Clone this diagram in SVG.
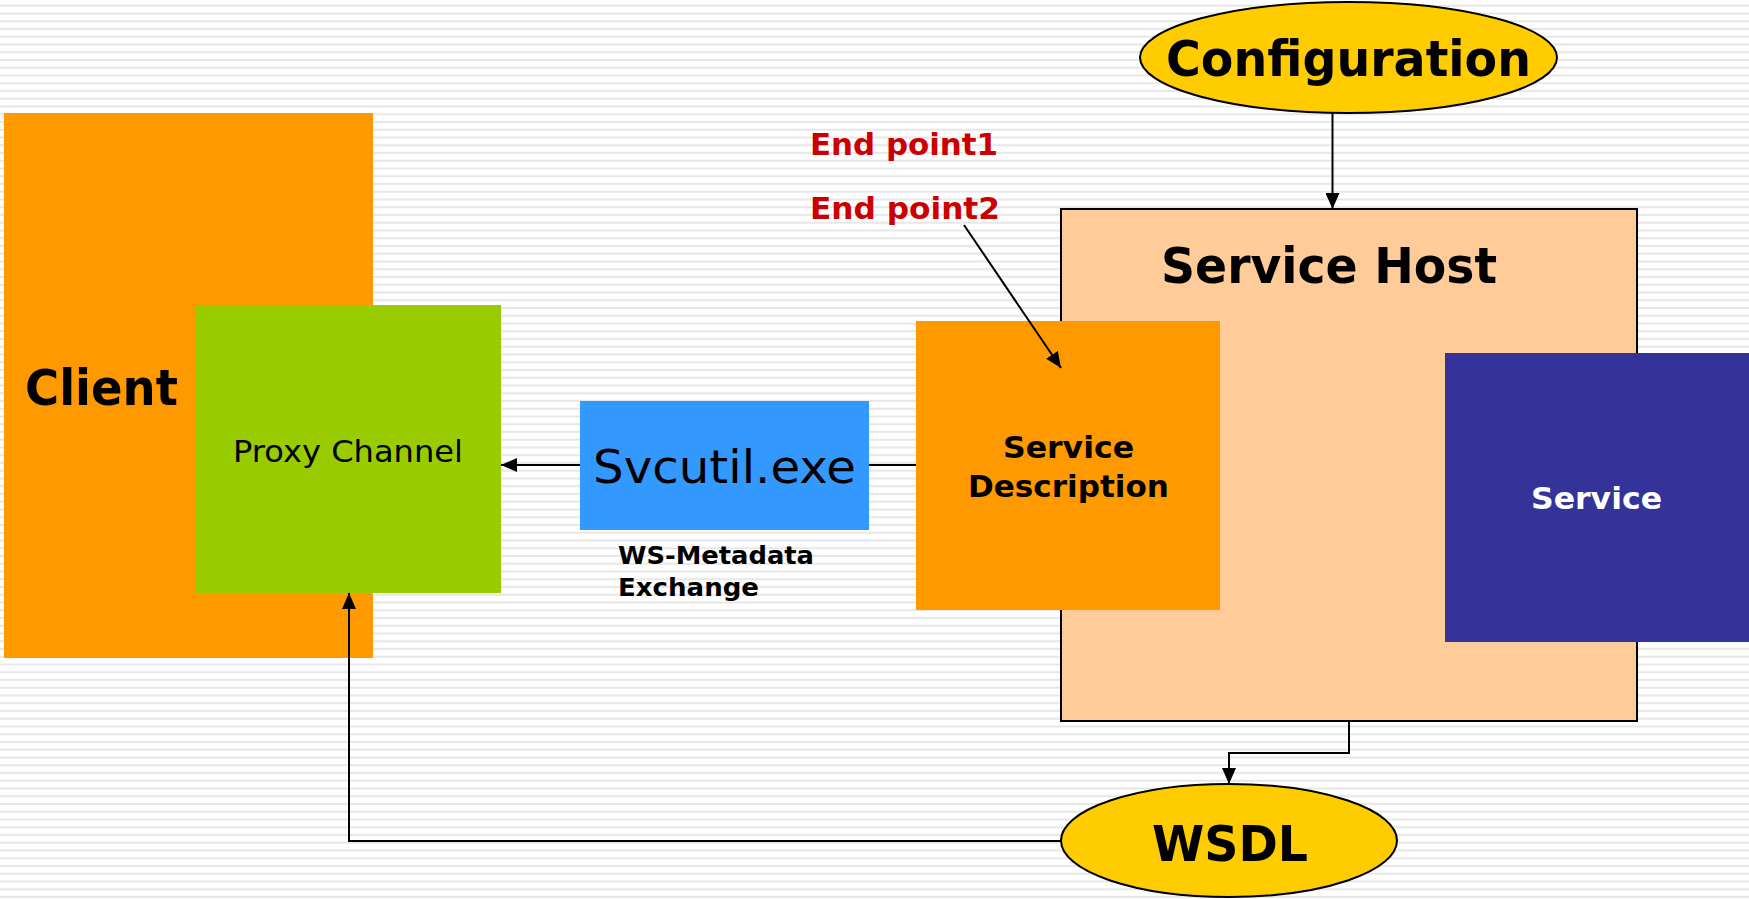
<svg xmlns="http://www.w3.org/2000/svg" width="1749" height="899" viewBox="0 0 1749 899">
  <defs>
    <pattern id="stripes" x="0" y="0" width="20" height="7.75" patternUnits="userSpaceOnUse">
      <rect x="0" y="0" width="20" height="7.75" fill="#ffffff"/>
      <rect x="0" y="4.7" width="20" height="2" fill="#eeeeee"/>
      <rect x="0" y="5.2" width="20" height="1" fill="#e0e0e0"/>
    </pattern>
    <marker id="arrow" viewBox="0 0 16 14" refX="16" refY="7" markerWidth="16" markerHeight="14" markerUnits="userSpaceOnUse" orient="auto">
      <path d="M0,0 L16,7 L0,14 Z" fill="#000"/>
    </marker>
    <style>
      .lbl { font-family: "DejaVu Sans", Verdana, sans-serif; fill: #000; }
      .b { font-weight: bold; }
      .red { fill: #cc0000; }
      .white { fill: #ffffff; }
      .conn { fill: none; stroke: #000; stroke-width: 2; }
      .oval { fill: #ffcc00; stroke: #000; stroke-width: 2; }
    </style>
  </defs>

  <rect x="0" y="0" width="1749" height="899" fill="url(#stripes)"/>

  <g id="client">
    <rect x="4" y="113" width="369" height="545" fill="#ff9900"/>
    <text class="lbl b" x="25" y="405" font-size="50" textLength="153" lengthAdjust="spacingAndGlyphs">Client</text>
  </g>

  <g id="proxy-channel">
    <rect x="196" y="305" width="305" height="288" fill="#99cc00"/>
    <text class="lbl" x="233" y="462" font-size="30" textLength="230" lengthAdjust="spacingAndGlyphs">Proxy Channel</text>
  </g>

  <g id="service-host">
    <rect x="1061" y="209" width="576" height="512" fill="#ffcc99" stroke="#000" stroke-width="2"/>
    <text class="lbl b" x="1161" y="283" font-size="49" textLength="336" lengthAdjust="spacingAndGlyphs">Service Host</text>
  </g>

  <g id="service-description">
    <rect x="916" y="321" width="304" height="289" fill="#ff9900"/>
    <text class="lbl b" x="1003" y="458" font-size="31" textLength="131" lengthAdjust="spacingAndGlyphs">Service</text>
    <text class="lbl b" x="968" y="497" font-size="31" textLength="201" lengthAdjust="spacingAndGlyphs">Description</text>
  </g>

  <g id="service">
    <rect x="1445" y="353" width="304" height="289" fill="#333399"/>
    <text class="lbl b white" x="1531" y="509" font-size="31" textLength="131" lengthAdjust="spacingAndGlyphs">Service</text>
  </g>

  <g id="svcutil">
    <rect x="580" y="401" width="289" height="129" fill="#3399ff"/>
    <text class="lbl" x="593" y="483" font-size="47" textLength="263" lengthAdjust="spacingAndGlyphs">Svcutil.exe</text>
  </g>

  <g id="ws-metadata-exchange">
    <text class="lbl b" x="618" y="564" font-size="24" textLength="196" lengthAdjust="spacingAndGlyphs">WS-Metadata</text>
    <text class="lbl b" x="618" y="596" font-size="24" textLength="141" lengthAdjust="spacingAndGlyphs">Exchange</text>
  </g>

  <g id="endpoints">
    <text class="lbl b red" x="810" y="155" font-size="30" textLength="188" lengthAdjust="spacingAndGlyphs">End point1</text>
    <text class="lbl b red" x="810" y="219" font-size="30" textLength="190" lengthAdjust="spacingAndGlyphs">End point2</text>
  </g>

  <g id="configuration">
    <ellipse class="oval" cx="1348.5" cy="57.5" rx="208.5" ry="55.5"/>
    <text class="lbl b" x="1166" y="76" font-size="49" textLength="365" lengthAdjust="spacingAndGlyphs">Configuration</text>
  </g>

  <g id="wsdl">
    <ellipse class="oval" cx="1229" cy="840.5" rx="168" ry="56.5"/>
    <text class="lbl b" x="1152" y="861" font-size="49" textLength="156" lengthAdjust="spacingAndGlyphs">WSDL</text>
  </g>

  <g id="connectors">
    <!-- Configuration feeds the service host -->
    <line class="conn" x1="1332.5" y1="113" x2="1332.5" y2="209" marker-end="url(#arrow)"/>
    <!-- End point2 points into the service description -->
    <line class="conn" x1="964" y1="225" x2="1061" y2="368" marker-end="url(#arrow)"/>
    <!-- Service description through svcutil to the proxy -->
    <line class="conn" x1="916" y1="465" x2="869" y2="465"/>
    <line class="conn" x1="580" y1="465" x2="501" y2="465" marker-end="url(#arrow)"/>
    <!-- Service host publishes WSDL -->
    <polyline class="conn" points="1349,721 1349,753 1229,753 1229,784" marker-end="url(#arrow)"/>
    <!-- WSDL back to the proxy channel -->
    <polyline class="conn" points="1061,841 349,841 349,593" marker-end="url(#arrow)"/>
  </g>
</svg>
